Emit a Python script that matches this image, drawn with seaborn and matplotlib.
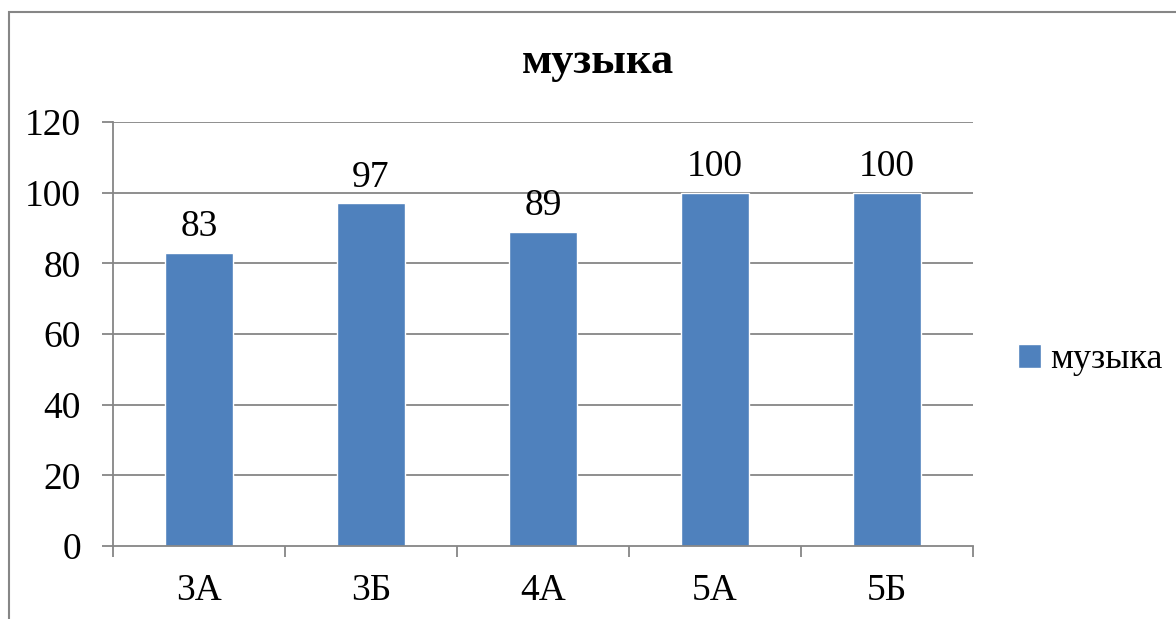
import matplotlib
matplotlib.use('Agg')
import matplotlib.pyplot as plt
import seaborn as sns
import pandas as pd
from matplotlib.patches import Rectangle, Patch

# chart data
classes = ['3А', '3Б', '4А', '5А', '5Б']
music = [83, 97, 89, 100, 100]
y_ticks = [0, 20, 40, 60, 80, 100, 120]
title = 'музыка'

df = pd.DataFrame({'class': classes, 'value': music})

sns.set_style('white')
plt.rcParams['font.family'] = ['Liberation Serif', 'DejaVu Serif']
plt.rcParams['text.color'] = 'black'
plt.rcParams['xtick.color'] = 'black'
plt.rcParams['ytick.color'] = 'black'

bar_color = '#4F81BD'
grid_color = '#868686'

fig = plt.figure(figsize=(11.76, 6.19), dpi=100)
ax = fig.add_axes([113 / 1176, 1 - 546 / 619, 860 / 1176, 424 / 619])

sns.barplot(data=df, x='class', y='value', color=bar_color, width=0.4,
            saturation=1, ax=ax)

ax.set_xlim(-0.5, len(classes) - 0.5)
ax.set_ylim(0, 120)
ax.set_yticks(y_ticks)
ax.set_xlabel('')
ax.set_ylabel('')

# gridlines
for v in y_ticks[1:]:
    ax.axhline(v, color=grid_color, lw=1.3, zorder=0)
for b in ax.patches:
    b.set_zorder(2)

for s in ['top', 'right']:
    ax.spines[s].set_visible(False)
for s in ['left', 'bottom']:
    ax.spines[s].set_color(grid_color)
    ax.spines[s].set_linewidth(1.3)

ax.tick_params(axis='y', length=8, width=1.3, color=grid_color, labelsize=27,
               pad=15, left=True, labelcolor='black')
ax.tick_params(axis='x', which='major', length=0, labelsize=27, pad=20, labelcolor='black')
ax.set_xticks([i - 0.5 for i in range(len(classes) + 1)], minor=True)
ax.tick_params(axis='x', which='minor', length=8, width=1.3, color=grid_color, bottom=True)

ax.bar_label(ax.containers[0], fontsize=27, padding=6, color='black')

fig.suptitle(title, fontsize=32, fontweight='bold', x=598 / 1176, y=1 - 62 / 619,
             va='center', color='black')

leg = fig.legend(handles=[Patch(facecolor=bar_color, label=title)], loc='center left',
                 bbox_to_anchor=(985 / 1176, 1 - 360 / 619), frameon=False,
                 fontsize=26, handlelength=0.65, handleheight=0.65, handletextpad=0.25)

# outer chart frame (partly outside the picture)
fig.patches.append(Rectangle((9 / 1176, -0.1), 1.2, 1 - 12 / 619 + 0.1, transform=fig.transFigure,
                             fill=False, edgecolor=grid_color, lw=1.5))

fig.savefig('out.png', dpi=100)
